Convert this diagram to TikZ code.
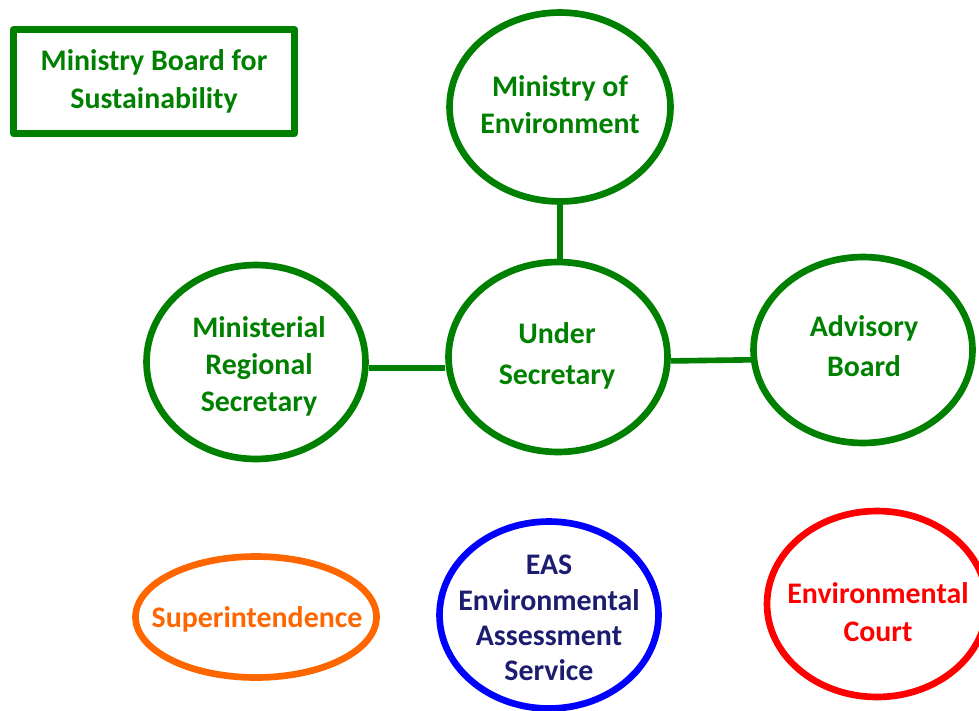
\documentclass[tikz,border=0pt]{standalone}
\usepackage{fontspec}
\setmainfont{Carlito}
\usetikzlibrary{shapes.geometric}
\definecolor{orgGreen}{RGB}{0,128,0}
\definecolor{orgOrange}{RGB}{255,102,0}
\definecolor{orgBlue}{RGB}{0,0,255}
\definecolor{orgNavy}{RGB}{28,28,112}
\definecolor{orgRed}{RGB}{255,0,0}
\tikzset{
	unit/.style={ellipse,draw,line width=3.8pt,inner sep=0pt},
	unittext/.style={align=center,inner sep=0pt,
		font=\bfseries\fontsize{17pt}{21pt}\selectfont},
	link/.style={draw=orgGreen,line width=3.2pt}
}
\begin{document}
\begin{tikzpicture}[x=0.02cm,y=-0.02cm,line join=round]
	\useasboundingbox (0,0) rectangle (979,710);
	\node[draw=orgGreen,line width=4pt,text=orgGreen,align=center,
		font=\bfseries\fontsize{17pt}{21.5pt}\selectfont,
		minimum width=5.62cm,minimum height=2.08cm] (board) at (154,81.5)
		{Ministry Board for\\Sustainability};
	% ellipses
	\node[unit,draw=orgGreen,minimum width=4.42cm,minimum height=3.78cm] (ministry) at (560,107) {};
	\node[unit,draw=orgGreen,minimum width=4.38cm,minimum height=3.8cm] (under) at (558,357) {};
	\node[unit,draw=orgGreen,minimum width=4.38cm,minimum height=3.88cm] (regional) at (256,362) {};
	\node[unit,draw=orgGreen,minimum width=4.38cm,minimum height=3.72cm] (advisory) at (863,350) {};
	\node[unit,draw=orgOrange,minimum width=4.82cm,minimum height=2.42cm] (super) at (256,617) {};
	\node[unit,draw=orgBlue,minimum width=4.38cm,minimum height=3.74cm] (eas) at (549,615) {};
	\node[unit,draw=orgRed,minimum width=4.4cm,minimum height=3.72cm] (court) at (877,604) {};
	% texts
	\node[unittext,text=orgGreen] (ministry-t) at (560,105) {Ministry of\\Environment};
	\node[unittext,text=orgGreen,font=\bfseries\fontsize{17pt}{23pt}\selectfont] (under-t) at (557,356) {Under\\Secretary};
	\node[unittext,text=orgGreen] (regional-t) at (259,366) {Ministerial\\Regional\\Secretary};
	\node[unittext,text=orgGreen,font=\bfseries\fontsize{17pt}{23pt}\selectfont] (advisory-t) at (864,346) {Advisory\\Board};
	\node[unittext,text=orgOrange] (super-t) at (257,619) {Superintendence};
	\node[unittext,text=orgNavy,font=\bfseries\fontsize{17pt}{20pt}\selectfont] (eas-t) at (549,618) {EAS\\Environmental\\Assessment\\Service};
	\node[unittext,text=orgRed,font=\bfseries\fontsize{17pt}{22pt}\selectfont] (court-t) at (878,612) {Environmental\\Court};
	\draw[link] (ministry.south) -- (ministry.south |- under.north);
	\draw[link] (regional.-3) -- (regional.-3 -| under.west);
	\draw[link] (under.-2) -- (advisory.185);
\end{tikzpicture}
\end{document}
